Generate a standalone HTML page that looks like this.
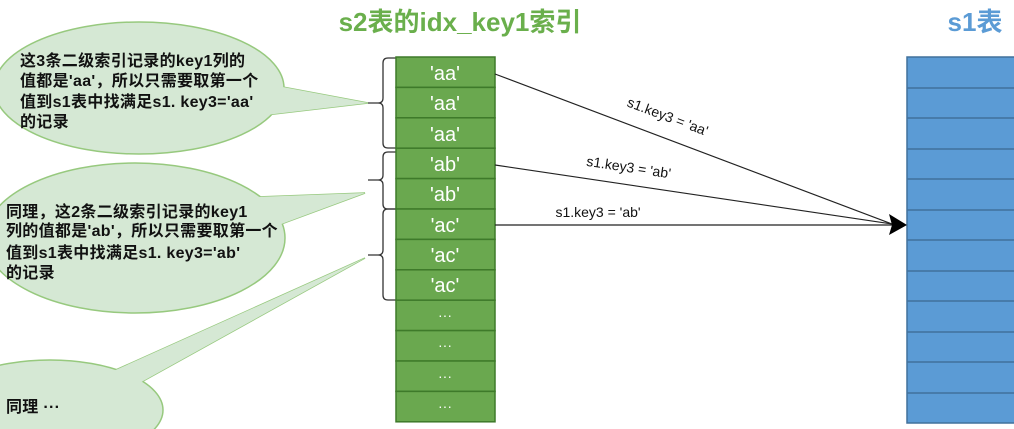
<!DOCTYPE html>
<html><head><meta charset="utf-8"><style>
html,body{margin:0;padding:0;background:#fff;width:1014px;height:429px;overflow:hidden}
svg{display:block}
.bt{font-family:"Liberation Sans","Noto Sans CJK SC",sans-serif;font-size:16px;font-weight:bold;fill:#111;letter-spacing:0.3px}
.cell{font-family:"Liberation Sans",sans-serif;font-size:20px;fill:#fff;text-anchor:middle}
.lbl{font-family:"Liberation Sans",sans-serif;font-size:14px;fill:#111;text-anchor:middle}
</style></head><body>
<svg width="1014" height="429" viewBox="0 0 1014 429" xmlns="http://www.w3.org/2000/svg">
<text x="460" y="31" font-family="Liberation Sans,Noto Sans CJK SC,sans-serif" font-size="26" font-weight="bold" fill="#6aaf4c" text-anchor="middle">s2表的idx_key1索引</text>
<text x="975" y="31" font-family="Liberation Sans,Noto Sans CJK SC,sans-serif" font-size="26" font-weight="bold" fill="#5b9bd5" text-anchor="middle">s1表</text>

<g fill="#d5e8d4" stroke="#97c97e" stroke-width="1.5">
<polygon points="368,103 240,79 240,118"/>
<ellipse cx="139" cy="88" rx="145" ry="66"/>
<polygon points="368,103 240,79 240,118" stroke="none"/>
</g>
<g fill="#d5e8d4" stroke="#97c97e" stroke-width="1.5">
<polygon points="365,193 230,198 230,243"/>
<ellipse cx="135" cy="238" rx="150" ry="75"/>
<polygon points="365,193 230,198 230,243" stroke="none"/>
</g>
<g fill="#d5e8d4" stroke="#97c97e" stroke-width="1.5">
<polygon points="365,258 80,386 80,416"/>
<ellipse cx="50" cy="410" rx="113" ry="50"/>
<polygon points="365,258 80,386 80,416" stroke="none"/>
</g>

<text class="bt" x="20" y="66">这3条二级索引记录的key1列的</text>
<text class="bt" x="20" y="86">值都是'aa'，所以只需要取第一个</text>
<text class="bt" x="20" y="107">值到s1表中找满足s1. key3='aa'</text>
<text class="bt" x="20" y="127">的记录</text>

<text class="bt" x="6" y="217">同理，这2条二级索引记录的key1</text>
<text class="bt" x="6" y="236">列的值都是'ab'，所以只需要取第一个</text>
<text class="bt" x="6" y="258">值到s1表中找满足s1. key3='ab'</text>
<text class="bt" x="6" y="278">的记录</text>

<text class="bt" x="6" y="412">同理 ···</text>

<g fill="none" stroke="#333" stroke-width="1.3">
<path d="M396,58 H388 Q383,58 383,63 V98 Q383,103 378,103 H368 M378,103 Q383,103 383,108 V143 Q383,148 388,148 H396"/>
<path d="M396,152 H388 Q383,152 383,157 V175 Q383,180 378,180 H368 M378,180 Q383,180 383,185 V204 Q383,209 388,209 H396"/>
<path d="M396,209 H388 Q383,209 383,214 V250 Q383,255 378,255 H368 M378,255 Q383,255 383,260 V295 Q383,300 388,300 H396"/>
</g>

<g stroke="#3e7a2a" stroke-width="1.5" fill="#6aa84f">
<rect x="396" y="57" width="99" height="30.4"/><rect x="396" y="87.4" width="99" height="30.4"/>
<rect x="396" y="117.8" width="99" height="30.4"/><rect x="396" y="148.2" width="99" height="30.4"/>
<rect x="396" y="178.6" width="99" height="30.4"/><rect x="396" y="209" width="99" height="30.4"/>
<rect x="396" y="239.4" width="99" height="30.4"/><rect x="396" y="269.8" width="99" height="30.4"/>
<rect x="396" y="300.2" width="99" height="30.4"/><rect x="396" y="330.6" width="99" height="30.4"/>
<rect x="396" y="361" width="99" height="30.4"/><rect x="396" y="391.4" width="99" height="30.4"/>
</g>
<text class="cell" x="445" y="80">'aa'</text><text class="cell" x="445" y="110">'aa'</text>
<text class="cell" x="445" y="141">'aa'</text><text class="cell" x="445" y="171">'ab'</text>
<text class="cell" x="445" y="201">'ab'</text><text class="cell" x="445" y="232">'ac'</text>
<text class="cell" x="445" y="262">'ac'</text><text class="cell" x="445" y="292">'ac'</text>
<text class="cell" x="445" y="320" style="font-size:14px">···</text><text class="cell" x="445" y="350" style="font-size:14px">···</text>
<text class="cell" x="445" y="381" style="font-size:14px">···</text><text class="cell" x="445" y="411" style="font-size:14px">···</text>

<rect x="907" y="57" width="110" height="366" stroke="#41719c" stroke-width="1.5" fill="#5b9bd5"/>
<g stroke="#41719c" stroke-width="1.5">
<line x1="907" y1="88" x2="1014" y2="88"/><line x1="907" y1="118" x2="1014" y2="118"/>
<line x1="907" y1="149" x2="1014" y2="149"/><line x1="907" y1="179" x2="1014" y2="179"/>
<line x1="907" y1="210" x2="1014" y2="210"/><line x1="907" y1="240" x2="1014" y2="240"/>
<line x1="907" y1="271" x2="1014" y2="271"/><line x1="907" y1="301" x2="1014" y2="301"/>
<line x1="907" y1="332" x2="1014" y2="332"/><line x1="907" y1="362" x2="1014" y2="362"/>
<line x1="907" y1="393" x2="1014" y2="393"/>
</g>

<g stroke="#222" stroke-width="1.2">
<line x1="495" y1="74" x2="892" y2="224"/>
<line x1="495" y1="165" x2="892" y2="224"/>
<line x1="495" y1="225" x2="892" y2="225"/>
</g>
<polygon points="907,225 889,214 892,225 889,235" fill="#000"/>

<text class="lbl" transform="translate(666,121) rotate(20.6)">s1.key3 = 'aa'</text>
<text class="lbl" transform="translate(628,172) rotate(8.5)">s1.key3 = 'ab'</text>
<text class="lbl" x="598" y="217">s1.key3 = 'ab'</text>
</svg>
</body></html>
